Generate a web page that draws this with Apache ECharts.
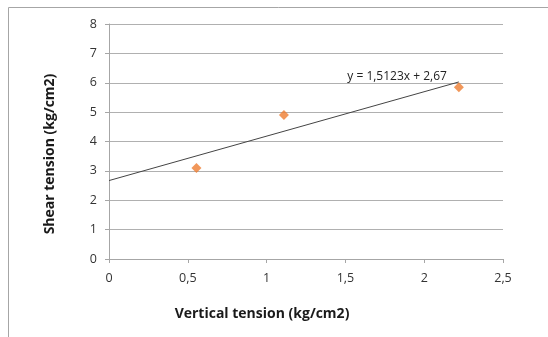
<!DOCTYPE html>
<html>
<head>
<meta charset="utf-8">
<script src="https://cdn.jsdelivr.net/npm/echarts@6/dist/echarts.min.js"></script>
<style>
  html, body { margin: 0; padding: 0; background: #fff; }
  #chart { width: 548px; height: 337px; }
</style>
</head>
<body>
<div id="chart"></div>
<script>
// Measured shear test results
const verticalTension = [0.555, 1.11, 2.22];   // kg/cm2
const shearTension = [3.1, 4.9, 5.85];         // kg/cm2

// Linear trendline coefficients
const slope = 1.5123;
const intercept = 2.67;
const trendLabel = 'y = 1,5123x + 2,67';

// Axis ticks
const xTicks = [0, 0.5, 1, 1.5, 2, 2.5];
const yTicks = [0, 1, 2, 3, 4, 5, 6, 7, 8];

const fmt = v => String(v).replace('.', ',');

const points = verticalTension.map((x, i) => [x, shearTension[i]]);
const xEnd = Math.max(...verticalTension);
const trend = [[0, intercept], [xEnd, slope * xEnd + intercept]];

const chart = echarts.init(document.getElementById('chart'), null, { renderer: 'canvas' });
const font = '"Open Sans", "Noto Sans", sans-serif';

chart.setOption({
  animation: false,
  backgroundColor: '#ffffff',
  grid: { left: 109, right: 45, top: 24, bottom: 78 },
  xAxis: {
    type: 'value',
    min: xTicks[0],
    max: xTicks[xTicks.length - 1],
    interval: 0.5,
    name: 'Vertical tension (kg/cm2)',
    nameLocation: 'middle',
    nameGap: 48,
    // titles sit centred on the whole chart area, not on the plot
    nameTextStyle: { fontFamily: font, fontWeight: 'bold', fontSize: 14, color: '#1a1a1a', padding: [0, 88, 0, 0] },
    axisLine: { show: true, lineStyle: { color: '#a6a6a6', width: 1 } },
    axisTick: { show: true, length: 4, inside: false, lineStyle: { color: '#a6a6a6' } },
    axisLabel: { fontFamily: font, fontSize: 12.5, color: '#333', margin: 13, formatter: fmt },
    splitLine: { show: false }
  },
  yAxis: {
    type: 'value',
    min: yTicks[0],
    max: yTicks[yTicks.length - 1],
    interval: 1,
    name: 'Shear tension (kg/cm2)',
    nameLocation: 'middle',
    nameGap: 52,
    nameTextStyle: { fontFamily: font, fontWeight: 'bold', fontSize: 14, color: '#1a1a1a', padding: [0, 25, 0, 0] },
    axisLine: { show: true, lineStyle: { color: '#a6a6a6', width: 1 } },
    axisTick: { show: true, length: 4, lineStyle: { color: '#a6a6a6' } },
    axisLabel: { fontFamily: font, fontSize: 12.5, color: '#333', margin: 12, formatter: fmt },
    splitLine: { show: true, lineStyle: { color: '#b0b0b0', width: 1 } }
  },
  series: [
    {
      type: 'line',
      data: trend,
      showSymbol: false,
      symbol: 'none',
      lineStyle: { color: '#444444', width: 1 },
      z: 3,
      endLabel: {
        show: true,
        formatter: trendLabel,
        fontFamily: font,
        fontSize: 12,
        color: '#222',
        align: 'right',
        offset: [-20, -5]
      }
    },
    {
      type: 'scatter',
      data: points,
      symbol: 'diamond',
      symbolSize: [10, 10],
      itemStyle: { color: '#ED7D31' },
      z: 4
    }
  ],
  graphic: [
    {
      type: 'polyline',
      shape: { points: [[8.5, 337], [8.5, 7.5], [548, 7.5]] },
      style: { stroke: '#a6a6a6', lineWidth: 1, fill: null },
      silent: true
    }
  ]
});
</script>
</body>
</html>
